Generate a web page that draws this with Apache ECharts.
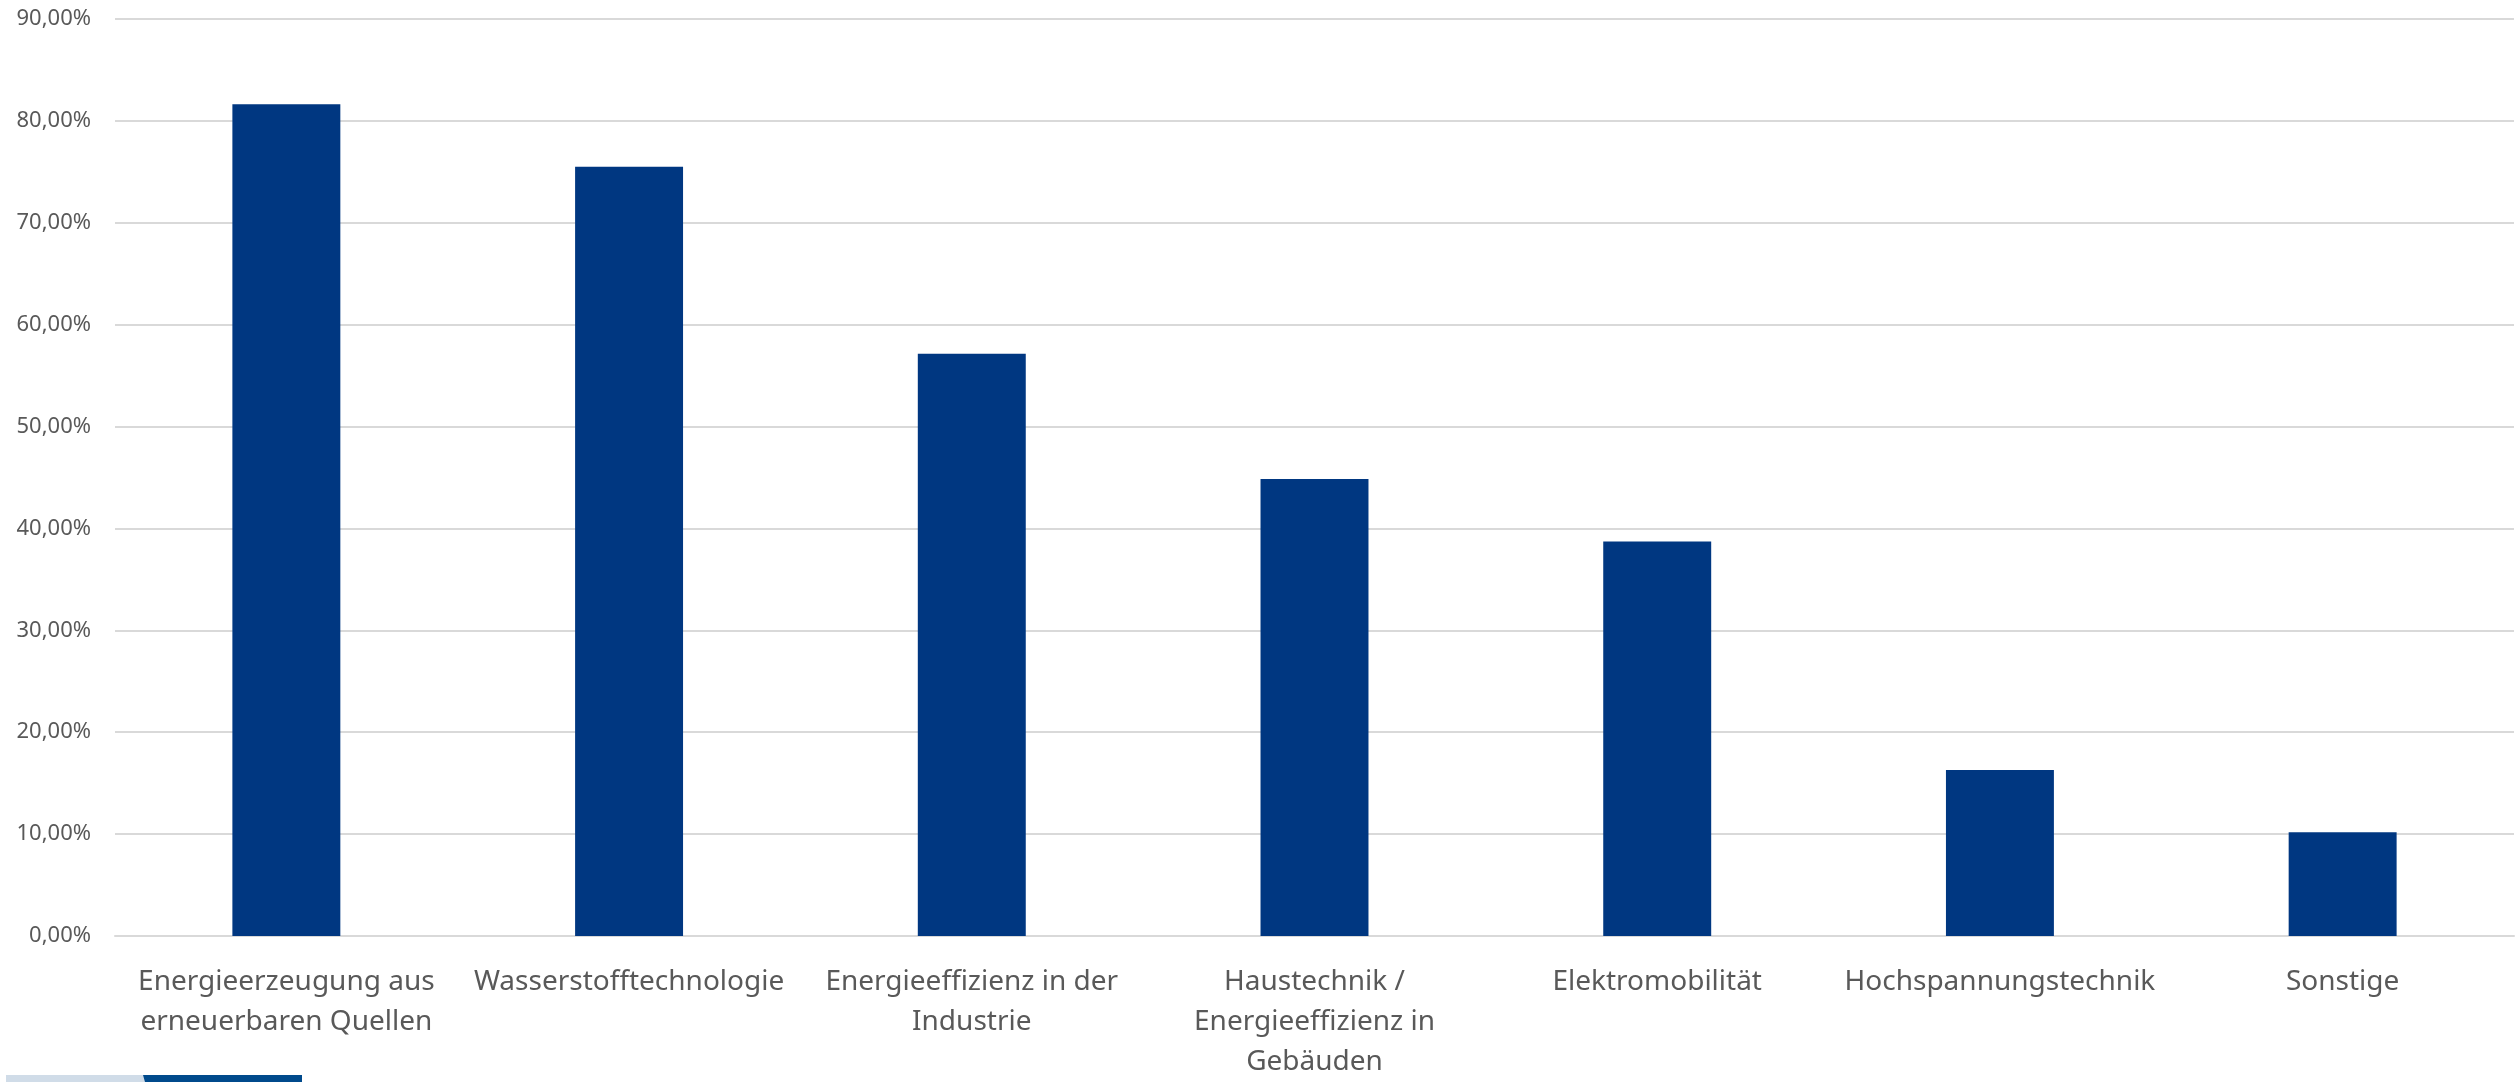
<!DOCTYPE html>
<html>
<head>
<meta charset="utf-8">
<script src="https://cdn.jsdelivr.net/npm/echarts@6/dist/echarts.min.js"></script>
<style>
html,body{margin:0;padding:0;background:#fff;overflow:hidden;}
#chart{width:2518px;height:1082px;}
</style>
</head>
<body>
<div id="chart"></div>
<script>
var categories = [
  "Energieerzeugung aus erneuerbaren Quellen",
  "Wasserstofftechnologie",
  "Energieeffizienz in der Industrie",
  "Haustechnik / Energieeffizienz in Gebäuden",
  "Elektromobilität",
  "Hochspannungstechnik",
  "Sonstige"
];
var categoryLabels = [
  "Energieerzeugung aus\nerneuerbaren Quellen",
  "Wasserstofftechnologie",
  "Energieeffizienz in der\nIndustrie",
  "Haustechnik /\nEnergieeffizienz in\nGebäuden",
  "Elektromobilität",
  "Hochspannungstechnik",
  "Sonstige"
];
var values = [81.63, 75.49, 57.14, 44.85, 38.73, 16.29, 10.18];
var yTicks = [0, 10, 20, 30, 40, 50, 60, 70, 80, 90];

var chart = echarts.init(document.getElementById('chart'), null, {renderer: 'canvas', width: 2518, height: 1082});
var FONT = '"Source Sans Pro", "Noto Sans", sans-serif';
chart.setOption({
  animation: false,
  backgroundColor: '#ffffff',
  grid: {left: 115, right: 4, top: 19, bottom: 140, containLabel: false},
  xAxis: {
    type: 'category',
    data: categories,
    axisLine: {show: true, lineStyle: {color: '#d9d9d9', width: 2}},
    axisTick: {show: false},
    axisLabel: {
      interval: 0,
      margin: 26,
      color: '#595959',
      fontFamily: FONT,
      fontSize: 28,
      lineHeight: 40,
      formatter: function (v, i) { return categoryLabels[i]; }
    }
  },
  yAxis: {
    type: 'value',
    min: yTicks[0],
    max: yTicks[yTicks.length - 1],
    interval: yTicks[1] - yTicks[0],
    axisLine: {show: false},
    axisTick: {show: false},
    splitLine: {show: true, lineStyle: {color: '#d9d9d9', width: 2}},
    axisLabel: {
      margin: 24,
      color: '#595959',
      fontFamily: FONT,
      fontSize: 22,
      formatter: function (v) { return v.toFixed(2).replace('.', ',') + '%'; }
    }
  },
  series: [{
    type: 'bar',
    data: values,
    barWidth: '31.5%',
    itemStyle: {color: '#003781'}
  }],
  graphic: [
    {type: 'rect', left: 6, top: 1075, shape: {width: 140, height: 7}, style: {fill: '#d0dce8'}},
    {type: 'polygon', shape: {points: [[143, 1075], [302, 1075], [302, 1082], [145, 1082]]}, style: {fill: '#004a8c'}}
  ]
});
</script>
</body>
</html>
